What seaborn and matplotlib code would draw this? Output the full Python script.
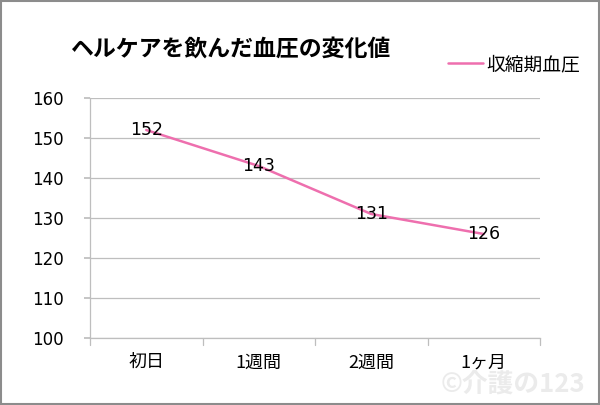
import matplotlib
matplotlib.use("Agg")
import matplotlib.pyplot as plt
import seaborn as sns
import pandas as pd

categories = ["初日", "1週間", "2週間", "1ヶ月"]
values = [152, 143, 131, 126]
series_name = "収縮期血圧"
title = "ヘルケアを飲んだ血圧の変化値"
yticks = [100, 110, 120, 130, 140, 150, 160]

sns.set_theme(style="white")
plt.rcParams['font.family'] = ['Noto Sans CJK JP', 'DejaVu Sans']
plt.rcParams['text.color'] = '#000000'
plt.rcParams['xtick.labelcolor'] = '#000000'
plt.rcParams['ytick.labelcolor'] = '#000000'

df = pd.DataFrame({"x": categories, "y": values})

fig = plt.figure(figsize=(6, 4.05), dpi=100)
ax = fig.add_axes([0.15, 0.1654, 0.75, 0.5926])
color = "#EE6FAE"
sns.lineplot(data=df, x="x", y="y", ax=ax, color=color, linewidth=1.8,
             label=series_name, sort=False)

ax.set_ylim(100, 160)
ax.set_xlim(-0.5, 3.5)
ax.set_yticks(yticks)
ax.set_xticks(range(len(categories)))
ax.set_xticklabels(categories)
ax.set_xlabel("")
ax.set_ylabel("")
for t in yticks:
    ax.axhline(t, color="#BEBEBE", linewidth=0.9, zorder=0)
# boundary tick marks on x
for b in [-0.5, 0.5, 1.5, 2.5, 3.5]:
    ax.plot([b, b], [100, 98.3], color="#BEBEBE", linewidth=0.9, clip_on=False)
ax.tick_params(axis="x", length=0, labelsize=13, pad=11, labelcolor="#000000")
ax.tick_params(axis="y", length=4, color="#BEBEBE", labelsize=12, pad=15, left=True,
               labelcolor="#000000")
for lab in ax.get_yticklabels():
    lab.set_family(['DejaVu Sans'])
for s in ["top", "right"]:
    ax.spines[s].set_visible(False)
ax.spines["left"].set_color("#BEBEBE")
ax.spines["bottom"].set_color("#BEBEBE")
ax.spines["left"].set_linewidth(0.9)
ax.spines["bottom"].set_linewidth(0.9)

for i, v in enumerate(values):
    ax.text(i, v, str(v), ha="center", va="center", fontsize=12.5,
            family=['DejaVu Sans'], color="#000000")

leg = ax.legend(loc="center left", bbox_to_anchor=(0.795, 1.14), frameon=False,
                fontsize=13.5, handlelength=1.9, handletextpad=0.15,
                borderaxespad=0, borderpad=0)
for t in leg.get_texts():
    t.set_color("#000000")

fig.text(0.117, 0.878, title, fontsize=16.5, fontweight="bold", ha="left", va="center",
         color="#000000")
fig.text(0.975, 0.052, "©介護の123", fontsize=18.5, fontweight="bold", color="#EBEBEB",
         ha="right", va="center", zorder=-1)

border = plt.Rectangle((0.0015, 0.0025), 0.997, 0.995, transform=fig.transFigure,
                       fill=False, edgecolor="#8C8C8C", linewidth=1.5)
fig.patches.append(border)

fig.savefig("out.png", dpi=100)
